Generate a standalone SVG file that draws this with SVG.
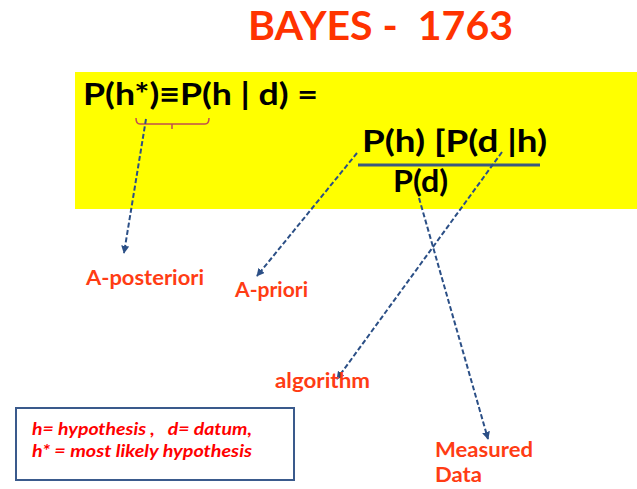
<svg xmlns="http://www.w3.org/2000/svg" width="637" height="489" viewBox="0 0 637 489">
<style>
.f{font-family:Lato,"Liberation Sans",sans-serif;font-weight:bold;white-space:pre}
.eq{font-size:31px;fill:#000}
.lbl{font-size:20px;fill:#ff3c14}
.note{font-size:17px;fill:#ff0000;font-style:italic}
.dash{fill:none;stroke:#2b4f86;stroke-width:2;stroke-dasharray:5,2.5;marker-end:url(#ah)}
</style>
<defs>
<marker id="ah" viewBox="0 0 10 10" refX="9" refY="5" markerWidth="4" markerHeight="4" orient="auto" markerUnits="strokeWidth">
<path d="M0,0 L10,5 L0,10 z" fill="#2b4f86"/>
</marker>
</defs>
<rect width="637" height="489" fill="#fff"/>
<g id="title"><text class="f" x="248" y="40" font-size="41" fill="#ff3300" textLength="265" lengthAdjust="spacingAndGlyphs" xml:space="preserve">BAYES -  1763</text></g>
<g id="formula">
<rect x="75" y="72" width="562" height="137" fill="#ffff00"/>
<text class="f eq" x="83" y="105" textLength="235" lengthAdjust="spacingAndGlyphs">P(h*)≡P(h | d) =</text>
<path d="M136,118 Q136,124 140,124 L205,124 Q209,124 209,118 M172,124 L172,129" fill="none" stroke="#c0504d" stroke-width="1.5"/>
<text class="f eq" x="362" y="152" textLength="185" lengthAdjust="spacingAndGlyphs">P(h) [P(d |h)</text>
<line x1="358" y1="165" x2="540" y2="165" stroke="#3a5a80" stroke-width="3"/>
<text class="f eq" x="393" y="192" textLength="55" lengthAdjust="spacingAndGlyphs">P(d)</text>
</g>
<g id="connectors">
<path class="dash" d="M146,119 L124,253"/>
<path class="dash" d="M357,153 L257,276"/>
<path class="dash" d="M502,152 L337,379"/>
<path class="dash" d="M419,198 L488,439"/>
</g>
<g id="a-posteriori"><text class="f lbl" x="86" y="285" textLength="118" lengthAdjust="spacingAndGlyphs">A-posteriori</text></g>
<g id="a-priori"><text class="f lbl" x="235" y="297" textLength="73" lengthAdjust="spacingAndGlyphs">A-priori</text></g>
<g id="algorithm"><text class="f lbl" x="275" y="388" textLength="95" lengthAdjust="spacingAndGlyphs">algorithm</text></g>
<g id="measured-data"><text class="f lbl" x="435" y="457" textLength="98" lengthAdjust="spacingAndGlyphs">Measured</text><text class="f lbl" x="435" y="482" textLength="47" lengthAdjust="spacingAndGlyphs">Data</text></g>
<g id="legend">
<rect x="16" y="408" width="278" height="72" fill="#fff" stroke="#3a5a8c" stroke-width="2"/>
<text class="f note" x="32" y="435" textLength="220" lengthAdjust="spacingAndGlyphs" xml:space="preserve">h= hypothesis ,   d= datum,</text>
<text class="f note" x="32" y="457" textLength="220" lengthAdjust="spacingAndGlyphs">h* = most likely hypothesis</text>
</g>
</svg>
